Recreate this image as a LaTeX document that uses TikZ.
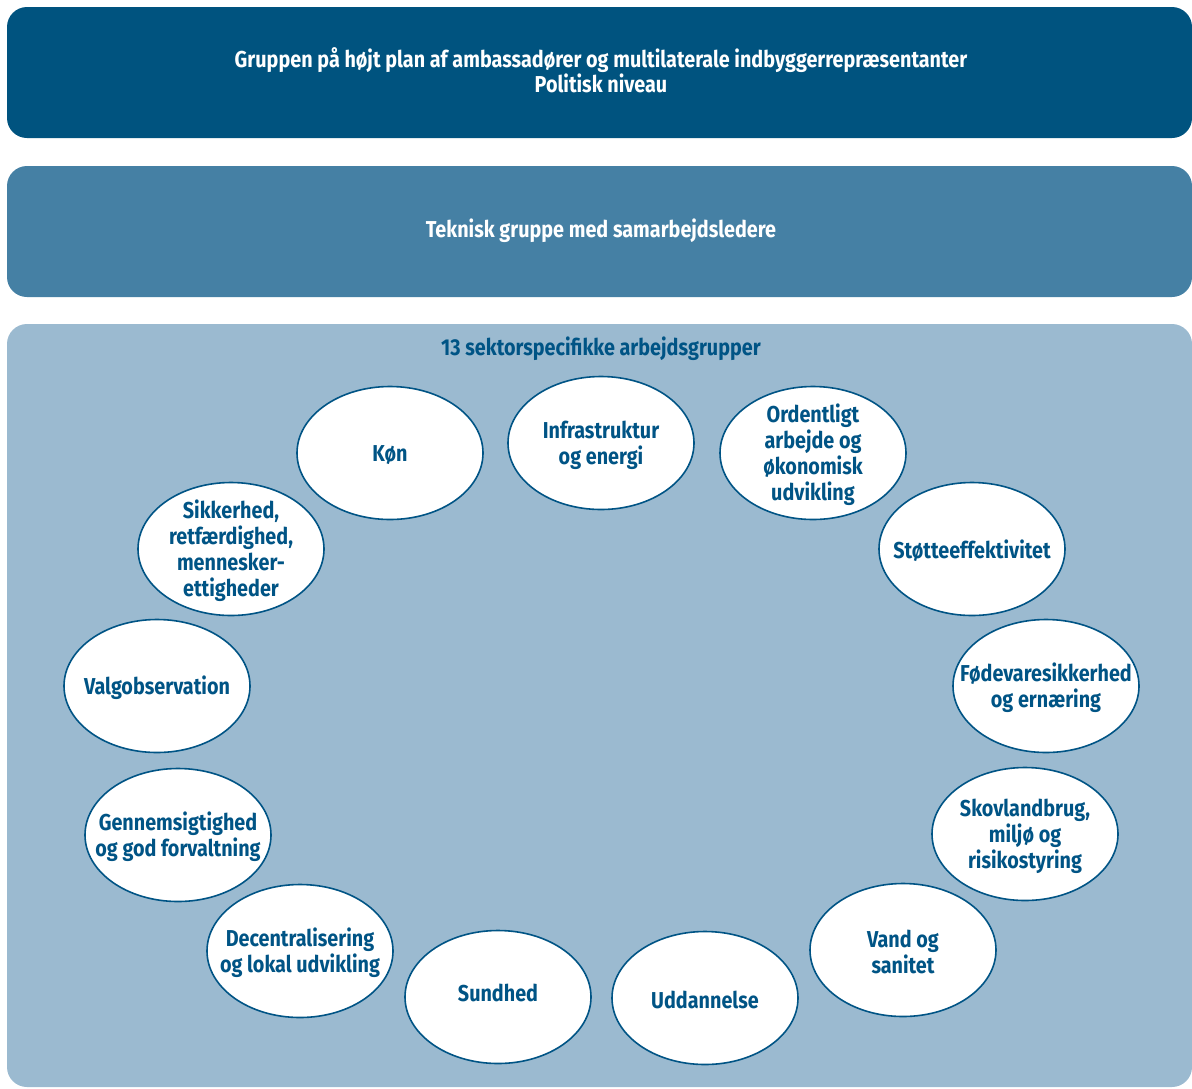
\documentclass[tikz,border=0pt]{standalone}
\usepackage{fontspec}
\setmainfont{Fira Sans}[FakeStretch=0.86]
\usetikzlibrary{shapes.geometric}
\definecolor{navy}{HTML}{00537F}
\definecolor{midblue}{HTML}{4580A4}
\definecolor{paleblue}{HTML}{9BBAD0}
\definecolor{inkblue}{HTML}{005485}
\tikzset{
  band/.style={rounded corners=20pt, draw=none},
  bandtext/.style={text=white, font=\bfseries\fontsize{23}{25}\selectfont, align=center},
  group/.style={ellipse, draw=inkblue, line width=1.6pt, fill=white,
    minimum width=186pt, minimum height=133pt, inner sep=0pt},
  grouptext/.style={text=inkblue, align=center, inner sep=0pt,
    font=\bfseries\fontsize{23}{26}\selectfont},
}
% an ellipse of fixed size with its caption centred on it
\newcommand\wgroup[4][2]{%
  \node[group] (#2) at (#3) {};
  \node[grouptext, yshift=-#1pt] (#2-text) at (#2.center) {#4};}
\begin{document}
\begin{tikzpicture}[x=1pt,y=-1pt]
\useasboundingbox (0,0) rectangle (1192,1088);
\fill[white] (0,0) rectangle (1192,1088);

% three levels
\fill[band, navy] (7,7) rectangle (1192,138);
\fill[band, midblue] (7,166) rectangle (1192,297);
\fill[band, paleblue] (7,324) rectangle (1192,1087);

\node[bandtext] (political) at (601,70) {Gruppen på højt plan af ambassadører og multilaterale indbyggerrepræsentanter\\Politisk niveau};
\node[bandtext] (technical) at (601,231) {Teknisk gruppe med samarbejdsledere};
\node[text=inkblue, font=\bfseries\fontsize{23}{25}\selectfont] (sector) at (601,349) {13 sektorspecifikke arbejdsgrupper};

% working groups
\wgroup{kon}{390,453}{Køn}
\wgroup{infra}{601,443}{Infrastruktur\\og energi}
\wgroup{work}{813,453}{Ordentligt\\arbejde og\\økonomisk\\udvikling}
\wgroup{aid}{972,549}{Støtteeffektivitet}
\wgroup{food}{1046,686}{Fødevaresikkerhed\\og ernæring}
\wgroup{agro}{1025,834}{Skovlandbrug,\\miljø og\\risikostyring}
\wgroup{wash}{903,950}{Vand og\\sanitet}
\wgroup{edu}{705,998}{Uddannelse}
\wgroup[-4]{health}{498,997}{Sundhed}
\wgroup{decen}{300,951}{Decentralisering\\og lokal udvikling}
\wgroup{gov}{178,835}{Gennemsigtighed\\og god forvaltning}
\wgroup{elect}{157,686}{Valgobservation}
\wgroup{sec}{231,549}{Sikkerhed,\\retfærdighed,\\mennesker-\\ettigheder}
\end{tikzpicture}
\end{document}
